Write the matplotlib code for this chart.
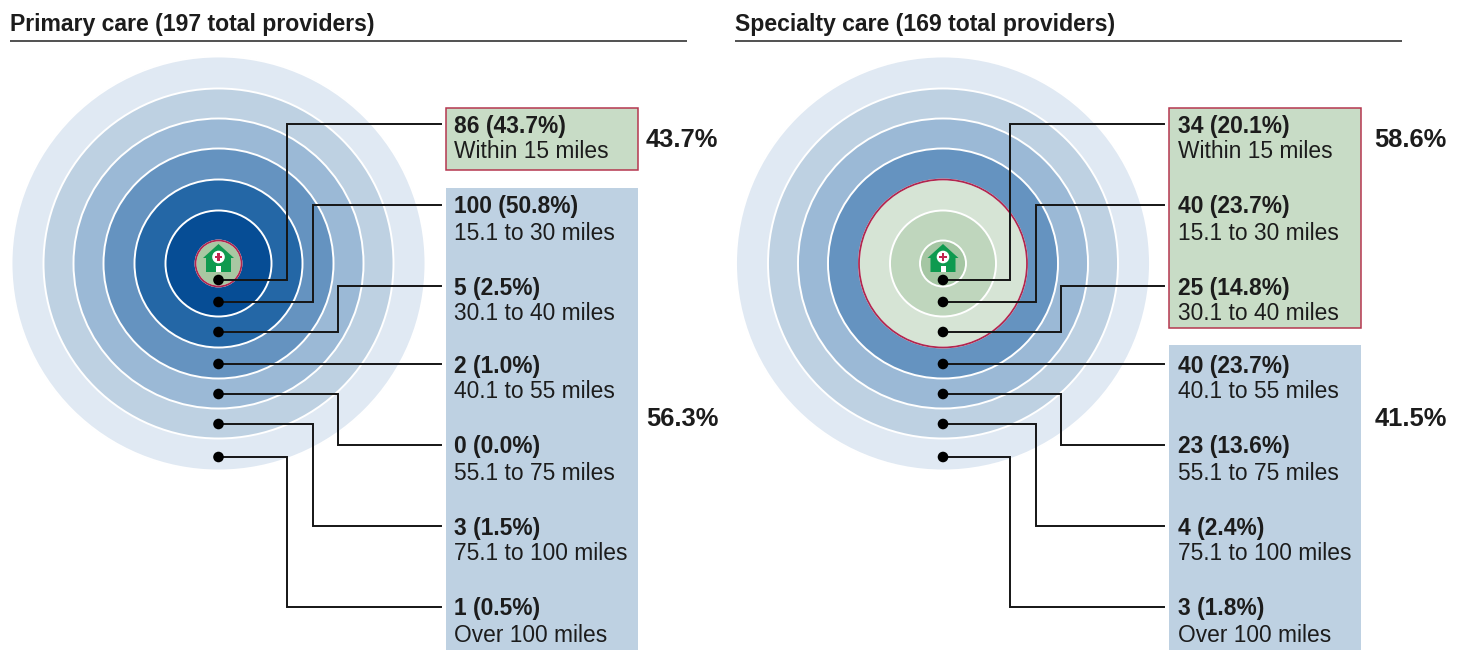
import matplotlib
matplotlib.use("Agg")
import matplotlib.pyplot as plt
from matplotlib.patches import Circle, Polygon, Rectangle

plt.rcParams['font.family'] = ['Liberation Sans', 'DejaVu Sans']

bands = ["Within 15 miles", "15.1 to 30 miles", "30.1 to 40 miles", "40.1 to 55 miles",
         "55.1 to 75 miles", "75.1 to 100 miles", "Over 100 miles"]
primary_title = "Primary care (197 total providers)"
primary_counts = [86, 100, 5, 2, 0, 3, 1]
primary_pcts = [43.7, 50.8, 2.5, 1.0, 0.0, 1.5, 0.5]
primary_groups = [43.7, 56.3]
primary_near = 1
specialty_title = "Specialty care (169 total providers)"
specialty_counts = [34, 40, 25, 40, 23, 4, 3]
specialty_pcts = [20.1, 23.7, 14.8, 23.7, 13.6, 2.4, 1.8]
specialty_groups = [58.6, 41.5]
specialty_near = 3

INK = "#1c1c1c"
RADII = [207, 175, 145, 115, 84, 53, 23]
BLUES = ["#e0e9f3", "#bed1e2", "#9bb9d6", "#6593c0", "#2467a6", "#064d95", "#064d95"]
GREENS = {1: ["#a9c8a2"], 3: ["#d6e4d5", "#bfd6bd", "#a5c6a3"]}
DOT_Y = [280, 302, 332, 364, 394, 424, 457]
ELBOW_X = [287, 313, 338, None, 338, 313, 287]
LABEL_Y = [124, 205, 286, 364, 445, 526, 607]

fig = plt.figure(figsize=(14.61, 6.5), dpi=100)
ax = fig.add_axes([0, 0, 1, 1])
ax.set_xlim(0, 1461)
ax.set_ylim(650, 0)
ax.axis("off")


def house(cx):
    ax.add_patch(Polygon([(cx, 244), (cx + 15.5, 258), (cx + 12.5, 258), (cx + 12.5, 272),
                          (cx - 12.5, 272), (cx - 12.5, 258), (cx - 15.5, 258)],
                         fc="#0f9a4f", ec="none", zorder=4))
    ax.add_patch(Rectangle((cx - 2.5, 266), 5, 6, fc="white", ec="none", zorder=5))
    ax.add_patch(Circle((cx, 257), 6.3, fc="white", ec="none", zorder=5))
    ax.add_patch(Rectangle((cx - 3.7, 255.8), 7.4, 2.4, fc="#c2244f", ec="none", zorder=6))
    ax.add_patch(Rectangle((cx - 1.2, 253.3), 2.4, 7.4, fc="#c2244f", ec="none", zorder=6))


def panel(dx, ring_x, title, counts, pcts, groups, near, box_bottom, blue_top, pct_x, text_x, title_x):
    cy = 263.5
    ax.text(title_x, 24, title, fontsize=16.6, fontweight="bold", color=INK, va="center", ha="left")
    ax.plot([10 + dx + (2 if dx else 0), (1402 if dx else 687)], [40.5, 40.5], color="#222222", lw=1.1, solid_capstyle="butt")

    # rings
    for i, (r, col) in enumerate(zip(RADII, BLUES)):
        n_in = len(RADII) - i
        if n_in <= near:
            col = GREENS[near][near - n_in]
        ax.add_patch(Circle((ring_x, cy), r, fc=col, ec="white", lw=1.4, zorder=2))
    ax.add_patch(Circle((ring_x, cy), RADII[-near], fc="none", ec="#b0274f", lw=1.3, zorder=3))
    house(ring_x)

    # boxes
    ax.add_patch(Rectangle((446 + dx, 108), 192, box_bottom - 108, fc="#c8dcc6", ec="#b5374f", lw=1.1, zorder=1))
    ax.add_patch(Rectangle((446 + dx, blue_top), 192, 650 - blue_top, fc="#bed1e2", ec="none", zorder=1))

    # leaders, dots and labels
    for i in range(7):
        y0, y1, ex = DOT_Y[i], LABEL_Y[i], ELBOW_X[i]
        xs = [ring_x, 441 + dx] if ex is None else [ring_x, ex + dx, ex + dx, 441 + dx]
        ys = [y0, y1] if ex is None else [y0, y0, y1, y1]
        ax.plot(xs, ys, color="#151515", lw=1.4, zorder=7, solid_joinstyle="miter")
        ax.add_patch(Circle((ring_x, y0), 5.3, fc="black", ec="none", zorder=8))
        ax.text(text_x, y1 + 2, f"{counts[i]} ({pcts[i]:.1f}%)", fontsize=16.4, fontweight="bold",
                color=INK, va="center", ha="left", zorder=9)
        ax.text(text_x, y1 + 28, bands[i], fontsize=16.4, color=INK, va="center", ha="left", zorder=9)

    # group totals
    ax.text(pct_x, 140, f"{groups[0]:.1f}%", fontsize=18.4, fontweight="bold", color=INK, va="center", ha="left")
    ax.text(pct_x, 419.5, f"{groups[1]:.1f}%", fontsize=18.4, fontweight="bold", color=INK, va="center", ha="left")


panel(0, 218.5, primary_title, primary_counts, primary_pcts, primary_groups, primary_near, 170, 188, 646, 454, 10)
panel(723, 943, specialty_title, specialty_counts, specialty_pcts, specialty_groups, specialty_near, 328, 345, 1374.5, 1178, 735)

fig.savefig("out.png", dpi=100, facecolor="white")
